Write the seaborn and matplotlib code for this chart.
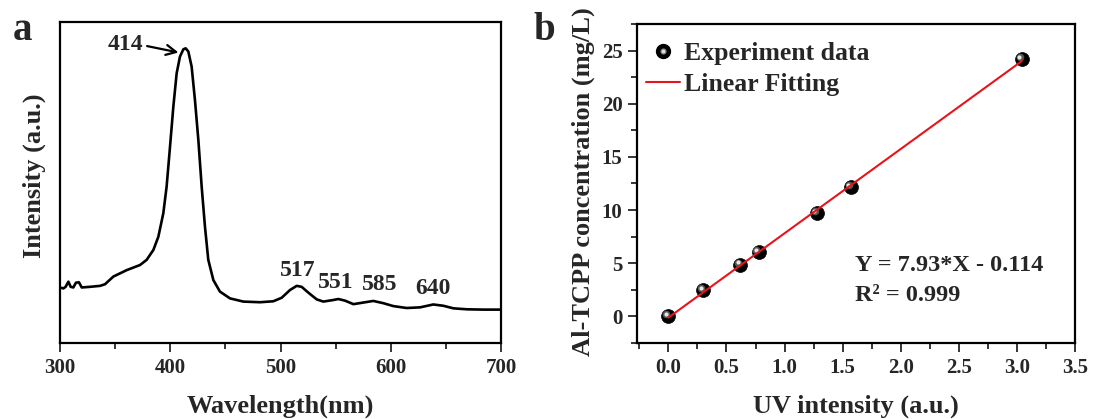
import numpy as np
import pandas as pd
import matplotlib
matplotlib.use("Agg")
import matplotlib.pyplot as plt
import matplotlib.transforms as mtransforms
from matplotlib.legend_handler import HandlerTuple
from matplotlib.lines import Line2D
from matplotlib.ticker import MultipleLocator, NullLocator, FormatStrFormatter
import seaborn as sns

# ---------------- data ----------------
# Panel a: emission spectrum
wavelength = [300, 303, 305.1, 307.6, 309.7, 312.1, 314.5, 317.2, 319.7, 327.2,
              336.3, 340.8, 348.4, 360.5, 372.6, 378.6, 384.7, 389.2, 393.7, 396.7,
              399.8, 402.8, 405.8, 408.8, 411.9, 414.0, 416.4, 419.4, 422.4, 425.5,
              428.5, 431.5, 434.5, 439.1, 445.1, 454.2, 466.3, 481.4, 493.5, 501.1,
              508.6, 514.7, 519.2, 525.2, 532.8, 538.8, 547.9, 552.5, 558.5, 566.1,
              575.1, 584.2, 593.3, 602.3, 614.4, 626.5, 638.6, 647.7, 656.8, 668.9,
              684.0, 699.9]
intensity = [0.173, 0.170, 0.175, 0.191, 0.175, 0.173, 0.188, 0.189, 0.173, 0.175,
             0.178, 0.183, 0.207, 0.227, 0.243, 0.259, 0.290, 0.331, 0.404, 0.487,
             0.612, 0.736, 0.840, 0.892, 0.915, 0.918, 0.908, 0.861, 0.757, 0.632,
             0.487, 0.362, 0.259, 0.196, 0.160, 0.139, 0.129, 0.127, 0.130, 0.141,
             0.165, 0.178, 0.175, 0.157, 0.136, 0.129, 0.134, 0.137, 0.132, 0.121,
             0.126, 0.131, 0.124, 0.115, 0.109, 0.111, 0.120, 0.116, 0.108, 0.105,
             0.104, 0.104]
main_peak_label = "414"
peak_labels = ["517", "551", "585", "640"]
peak_label_x = [515.4, 550.3, 590.0, 638.6]
peak_label_y = [0.227, 0.190, 0.181, 0.171]

# Panel b: calibration data
uv_intensity = [0.0, 0.302, 0.620, 0.777, 1.278, 1.571, 3.043]
concentration = [0.0, 2.44, 4.86, 6.05, 9.71, 12.16, 24.2]
fit_slope = 7.93
fit_intercept = -0.114
fit_x = [0.0, 3.043]

# ---------------- style ----------------
sns.set_style("ticks")
plt.rcParams["font.family"] = ["Liberation Serif", "DejaVu Serif"]
plt.rcParams["font.weight"] = "bold"
plt.rcParams["axes.labelweight"] = "bold"
plt.rcParams["axes.linewidth"] = 1.6

fig = plt.figure(figsize=(10.93, 4.19), dpi=100)
ax1 = fig.add_axes([60 / 1093, 1 - 343 / 419, 441 / 1093, 321 / 419])
ax2 = fig.add_axes([637 / 1093, 1 - 343 / 419, 438 / 1093, 319 / 419])

for ax in (ax1, ax2):
    for sp in ax.spines.values():
        sp.set_visible(True)
        sp.set_linewidth(1.6)
        sp.set_color("black")

# ---------------- panel a ----------------
spec = pd.DataFrame({"wl": wavelength, "I": intensity})
sns.lineplot(data=spec, x="wl", y="I", ax=ax1, color="black", lw=1.9, sort=True)
ax1.set_xlim(300, 700)
ax1.set_ylim(0, 1)
ax1.xaxis.set_major_locator(MultipleLocator(100))
ax1.xaxis.set_minor_locator(MultipleLocator(50))
ax1.yaxis.set_major_locator(NullLocator())
ax1.tick_params(axis="x", which="major", direction="out", length=6.5, width=1.3,
                labelsize=15, pad=4)
ax1.tick_params(axis="x", which="minor", direction="out", length=4, width=1.3)
for lab in ax1.get_xticklabels():
    lab.set_fontweight("bold")
ax1.set_xlabel("Wavelength(nm)", fontsize=19, fontweight="bold", labelpad=12)
ax1.set_ylabel("Intensity (a.u.)", fontsize=19, fontweight="bold")
ax1.yaxis.set_label_coords(-0.032, 0.52)

ax1.text(359, 0.93, main_peak_label, fontsize=17, fontweight="bold",
         ha="center", va="center")
ax1.annotate("", xy=(407.5, 0.905), xytext=(379, 0.925), textcoords="data",
             arrowprops=dict(arrowstyle="->", color="black", lw=1.6,
                             shrinkA=0, shrinkB=0, mutation_scale=18))
for t, xx, yy in zip(peak_labels, peak_label_x, peak_label_y):
    ax1.text(xx, yy, t, fontsize=17, fontweight="bold", ha="center", va="center")

# ---------------- panel b ----------------
cal = pd.DataFrame({"x": uv_intensity, "y": concentration})
sns.scatterplot(data=cal, x="x", y="y", ax=ax2, color="black", s=100,
                edgecolor="black", linewidth=0.5, zorder=3, legend=False)
# sphere-like highlight
off = mtransforms.ScaledTranslation(-2.2 / 100, 2.0 / 100, fig.dpi_scale_trans)
ax2.scatter(cal["x"], cal["y"], s=30, color="#555555", linewidth=0, zorder=4,
            transform=ax2.transData + off)
off2 = mtransforms.ScaledTranslation(-2.6 / 100, 2.4 / 100, fig.dpi_scale_trans)
ax2.scatter(cal["x"], cal["y"], s=9, color="#e6e6e6", linewidth=0, zorder=4,
            transform=ax2.transData + off2)

fit = pd.DataFrame({"x": fit_x})
fit["y"] = fit_slope * fit["x"] + fit_intercept
sns.lineplot(data=fit, x="x", y="y", ax=ax2, color="#e8141c", lw=1.5, zorder=5)
h_line = ax2.lines[-1]

ax2.set_xlim(-0.27, 3.5)
ax2.set_ylim(-2.5, 27.5)
ax2.xaxis.set_major_locator(MultipleLocator(0.5))
ax2.xaxis.set_minor_locator(MultipleLocator(0.25))
ax2.yaxis.set_major_locator(MultipleLocator(5))
ax2.yaxis.set_minor_locator(MultipleLocator(2.5))
ax2.xaxis.set_major_formatter(FormatStrFormatter("%.1f"))
ax2.tick_params(which="major", direction="out", length=6.5, width=1.3,
                labelsize=15, pad=4)
ax2.tick_params(which="minor", direction="out", length=4, width=1.3)
for lab in ax2.get_xticklabels() + ax2.get_yticklabels():
    lab.set_fontweight("bold")
ax2.set_xlabel("UV intensity (a.u.)", fontsize=19, fontweight="bold", labelpad=12)
ax2.set_ylabel("Al-TCPP concentration (mg/L)", fontsize=19, fontweight="bold")
ax2.yaxis.set_label_coords(-0.095, 0.505)

h_ball = Line2D([], [], ls="none", marker="o", ms=10, color="black")
h_hl1 = Line2D([], [], ls="none", marker="o", ms=3.5, color="#777777")
h_hl2 = Line2D([], [], ls="none", marker="o", ms=1.8, color="#dddddd")
ax2.legend([(h_ball, h_hl1, h_hl2), h_line], ["Experiment data", "Linear Fitting"],
           handler_map={tuple: HandlerTuple(ndivide=1)},
           loc="upper left", bbox_to_anchor=(0.02, 0.943), frameon=False,
           prop={"size": 18.5, "weight": "bold"}, borderaxespad=0, borderpad=0,
           handlelength=1.35, handletextpad=0.15, labelspacing=0.3)

ax2.text(0.498, 0.2445, "Y = 7.93*X - 0.114", transform=ax2.transAxes,
         fontsize=17.5, fontweight="bold", ha="left", va="center")
ax2.text(0.498, 0.150, "R² = 0.999", transform=ax2.transAxes,
         fontsize=17.5, fontweight="bold", ha="left", va="center")

# panel letters
fig.text(13 / 1093, 1 - 40 / 419, "a", fontsize=28, fontweight="bold",
         ha="left", va="baseline")
fig.text(533 / 1093, 1 - 40 / 419, "b", fontsize=28, fontweight="bold",
         ha="left", va="baseline")

fig.savefig("out.png", dpi=100)
